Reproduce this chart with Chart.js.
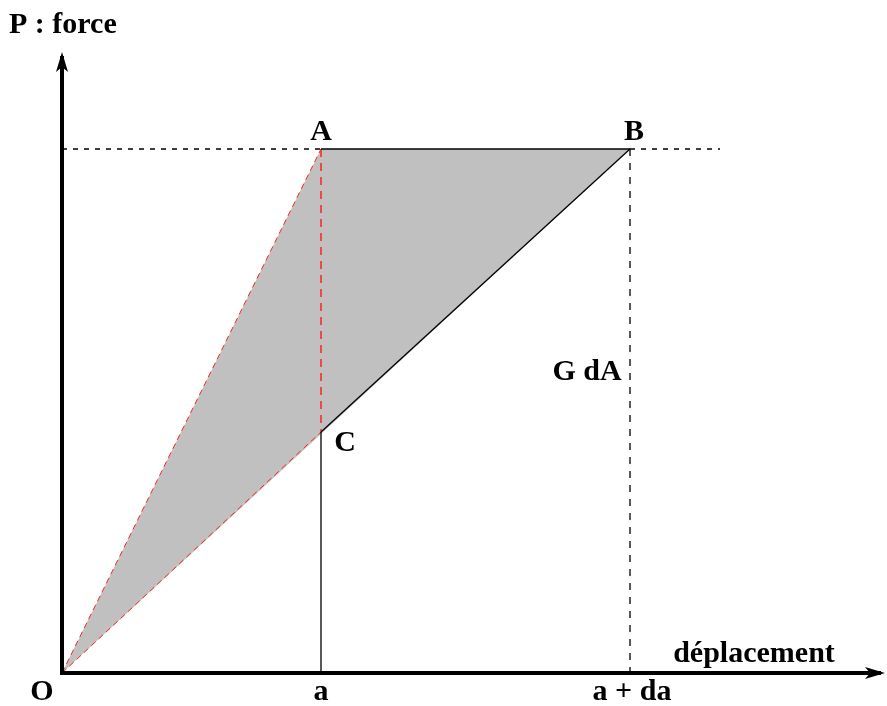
<!DOCTYPE html>
<html lang="fr">
<head>
    <meta charset="UTF-8">
    <title>P : force / déplacement</title>
    <script src="https://cdn.jsdelivr.net/npm/chart.js"></script>
    <style>
        html, body { margin: 0; padding: 0; background: #fff; }
        #wrap { width: 887px; height: 706px; }
    </style>
</head>
<body>
    <div id="wrap"><canvas id="chart"></canvas></div>

    <script>
        // points of the diagram (displacement, force)
        const O = { x: 0, y: 0 };
        const A = { x: 2.59, y: 5.24 };
        const B = { x: 5.68, y: 5.24 };
        const C = { x: 2.59, y: 2.41 };
        const footA = { x: 2.59, y: 0 };
        const footB = { x: 5.68, y: 0 };
        const forceLevelStart = { x: 0, y: 5.24 };
        const forceLevelEnd = { x: 6.58, y: 5.24 };

        // axis extents (arrow tips)
        const xAxisEnd = 8.23;
        const yAxisEnd = 6.21;

        // text labels and the point each one is attached to
        const pointLabels = [
            { text: 'A', at: A, dx: 0, dy: -17 },
            { text: 'B', at: B, dx: 4, dy: -17 },
            { text: 'C', at: C, dx: 24, dy: 11 },
            { text: 'G dA', at: { x: 5.68, y: 3.03 }, dx: -43, dy: 2 },
            { text: 'O', at: O, dx: -20, dy: 19 },
            { text: 'a', at: footA, dx: 0, dy: 19 },
            { text: 'a + da', at: footB, dx: 2, dy: 19 },
            { text: 'déplacement', at: { x: 6.92, y: 0 }, dx: 0, dy: -19 },
            { text: 'P : force', at: { x: 0, y: 6.51 }, dx: 5, dy: 3 }
        ];

        const red = '#ff2020';
        const seg = (pts, color, width, dash, order) => ({
            data: pts,
            showLine: true,
            borderColor: color,
            borderWidth: width,
            borderDash: dash,
            pointRadius: 0,
            fill: false,
            order: order || 1
        });

        const axesAndText = {
            id: 'axesAndText',
            afterDatasetsDraw(chart) {
                const ctx = chart.ctx;
                const xs = chart.scales.x, ys = chart.scales.y;
                const px = v => xs.getPixelForValue(v);
                const py = v => ys.getPixelForValue(v);
                const ox = px(0), oy = py(0);
                const xe = px(xAxisEnd), ye = py(yAxisEnd);

                ctx.save();
                ctx.strokeStyle = '#000';
                ctx.lineWidth = 4;
                ctx.lineCap = 'butt';
                ctx.beginPath();
                ctx.moveTo(ox, oy + 2);
                ctx.lineTo(ox, ye + 4);
                ctx.moveTo(ox - 2, oy);
                ctx.lineTo(xe - 4, oy);
                ctx.stroke();

                // arrow heads
                ctx.fillStyle = '#000';
                ctx.beginPath();
                ctx.moveTo(ox, ye);
                ctx.lineTo(ox - 6, ye + 20);
                ctx.lineTo(ox, ye + 15);
                ctx.lineTo(ox + 6, ye + 20);
                ctx.closePath();
                ctx.fill();
                ctx.beginPath();
                ctx.moveTo(xe, oy);
                ctx.lineTo(xe - 20, oy - 6);
                ctx.lineTo(xe - 15, oy);
                ctx.lineTo(xe - 20, oy + 6);
                ctx.closePath();
                ctx.fill();

                ctx.font = 'bold 30px "Liberation Serif", "Times New Roman", serif';
                ctx.textBaseline = 'middle';
                pointLabels.forEach(l => {
                    ctx.textAlign = l.text === 'P : force' ? 'left' : 'center';
                    const x = l.text === 'P : force' ? 9 : px(l.at.x) + l.dx;
                    ctx.fillText(l.text, x, py(l.at.y) + l.dy);
                });
                ctx.restore();
            }
        };

        new Chart(document.getElementById('chart'), {
            type: 'scatter',
            data: {
                datasets: [
                    // shaded triangle O-A-B
                    {
                        data: [O, A, B, O],
                        showLine: true,
                        borderWidth: 0,
                        borderColor: 'rgba(0,0,0,0)',
                        backgroundColor: '#c0c0c0',
                        pointRadius: 0,
                        fill: 'shape',
                        order: 10
                    },
                    seg([forceLevelStart, A], '#000', 1.3, [5, 6], 5),
                    seg([B, forceLevelEnd], '#000', 1.3, [5, 6], 5),
                    seg([B, footB], '#000', 1.3, [7, 7], 5),
                    seg([A, B], '#000', 1.6, []),
                    seg([B, C], '#000', 1.3, []),
                    seg([C, footA], '#000', 1.3, []),
                    seg([O, A], red, 1, [6, 4]),
                    seg([O, C], red, 1, [6, 4]),
                    seg([A, C], red, 1.5, [8, 6])
                ]
            },
            options: {
                responsive: true,
                maintainAspectRatio: false,
                animation: false,
                layout: { padding: 0 },
                plugins: {
                    legend: { display: false },
                    tooltip: { enabled: false }
                },
                scales: {
                    x: { type: 'linear', min: -0.62, max: 8.25, display: false },
                    y: { type: 'linear', min: -0.33, max: 6.73, display: false }
                }
            },
            plugins: [axesAndText]
        });
    </script>
</body>
</html>
